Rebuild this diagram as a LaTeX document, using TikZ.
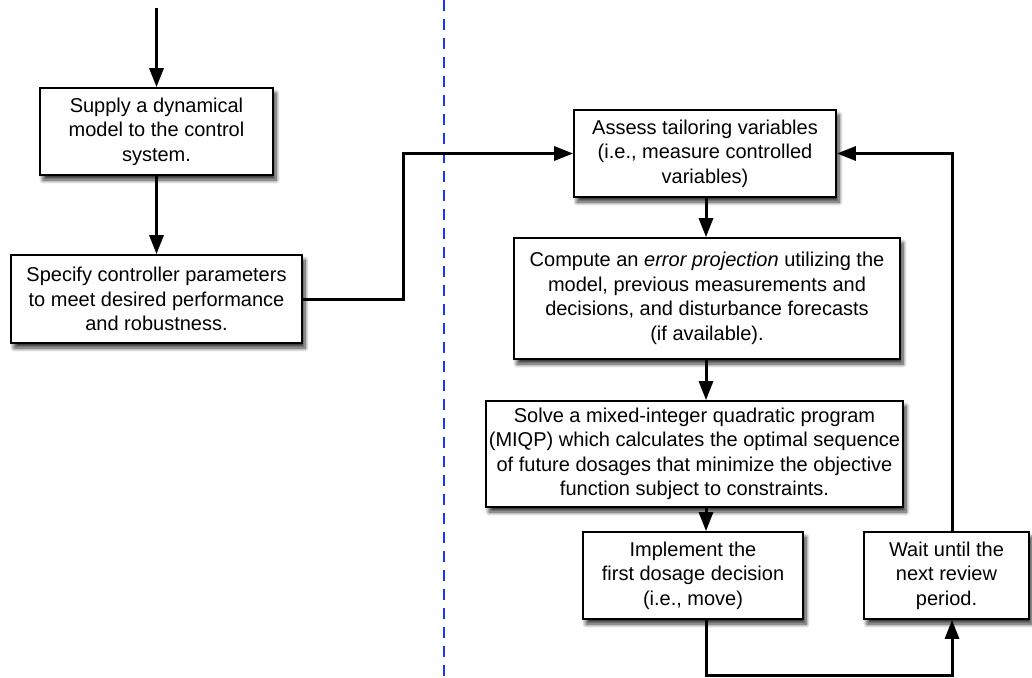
\documentclass[tikz,border=0pt]{standalone}
\usepackage{fontspec}
\setmainfont{Liberation Sans}
\usetikzlibrary{arrows.meta,shadows.blur}
\definecolor{dashblue}{RGB}{25,55,240}
\begin{document}
\begin{tikzpicture}[x=1pt,y=-1pt,
  box/.style={draw,line width=1.7pt,fill=white,align=center,inner sep=0pt,
    font=\fontsize{20}{24.5}\selectfont,
    blur shadow={shadow xshift=3pt,shadow yshift=-5pt,shadow blur steps=8,shadow blur radius=4pt,shadow opacity=80}},
  flow/.style={line width=3pt,-{Triangle[length=19pt,width=14pt]}},
  divider/.style={dashblue,line width=2.6pt,dash pattern=on 11pt off 8pt}]
\useasboundingbox (0,0) rectangle (1032,677);

% divider
\coordinate (dtop) at (444,0);
\coordinate (dbot) at (444,677);
\draw[divider] (dtop) -- (dbot);

% boxes
\node[box,minimum width=233pt,minimum height=87pt] (supply) at (156.5,131.5)
  {Supply a dynamical\\model to the control\\system.};
\node[box,minimum width=291pt,minimum height=88pt] (specify) at (156.5,299)
  {Specify controller parameters\\to meet desired performance\\and robustness.};
\node[box,minimum width=262pt,minimum height=87pt] (assess) at (705,153.5)
  {Assess tailoring variables\\(i.e., measure controlled\\variables)};
\node[box,minimum width=386pt,minimum height=121pt] (compute) at (707,298.5)
  {Compute an \textit{error projection} utilizing the\\model, previous measurements and\\decisions, and disturbance forecasts\\(if available).};
\node[box,minimum width=417pt,minimum height=106pt] (solve) at (694.5,454)
  {Solve a mixed-integer quadratic program\\(MIQP) which calculates the optimal sequence\\of future dosages that minimize the objective\\function subject to constraints.};
\node[box,minimum width=220pt,minimum height=87pt] (implement) at (693,575.5)
  {Implement the\\first dosage decision\\(i.e., move)};
\node[box,minimum width=165pt,minimum height=87pt] (wait) at (946.5,575.5)
  {Wait until the\\next review\\period.};

% helper coordinates
\coordinate (start) at (156.5,8);
\coordinate (spine) at (706,0);
\coordinate (leftbend) at (403,0);
\coordinate (rightx) at (952,0);
\coordinate (bottomy) at (0,675);

% connectors
\draw[flow] (start) -- (supply.north);
\draw[flow] (supply.south) -- (specify.north);
\draw[flow] (specify.east) -| (leftbend |- assess.west) -- (assess.west);
\draw[flow] (spine |- assess.south) -- (spine |- compute.north);
\draw[flow] (spine |- compute.south) -- (spine |- solve.north);
\draw[flow] (spine |- solve.south) -- (spine |- implement.north);
\draw[flow] (spine |- implement.south) -- (spine |- bottomy) -- (rightx |- bottomy) -- (rightx |- wait.south);
\draw[flow] (rightx |- wait.north) -- (rightx |- assess.east) -- (assess.east);
\end{tikzpicture}
\end{document}
